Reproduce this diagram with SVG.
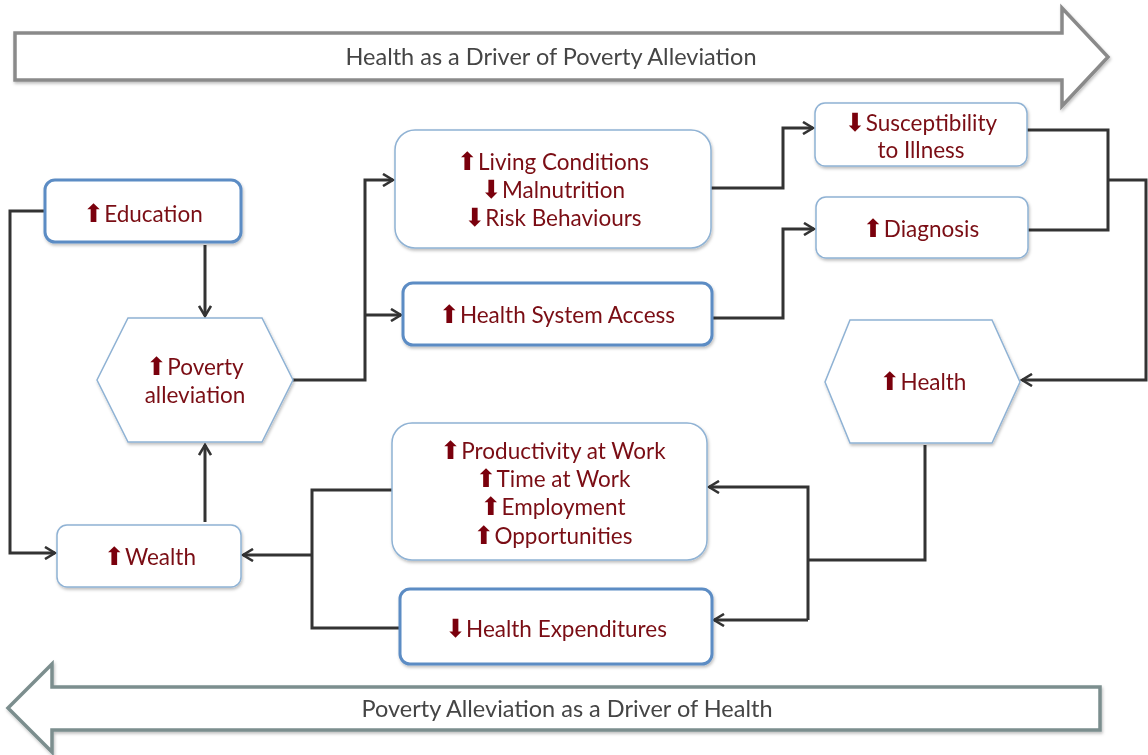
<svg xmlns="http://www.w3.org/2000/svg" width="1148" height="755" viewBox="0 0 1148 755">
<defs>
<filter id="sh" x="-10%" y="-10%" width="130%" height="140%">
<feDropShadow dx="1" dy="2" stdDeviation="1.5" flood-color="#000" flood-opacity="0.25"/>
</filter>
<marker id="ah" viewBox="0 0 14 14" refX="12" refY="7" markerWidth="14" markerHeight="14" markerUnits="userSpaceOnUse" orient="auto">
<path d="M2,1 L12,7 L2,13" fill="none" stroke="#333" stroke-width="2.6" stroke-linejoin="miter"/>
</marker>
</defs>
<style>
.thin{fill:#fff;stroke:#8fb2d4;stroke-width:1.5}
.thick{fill:#fff;stroke:#5b8cc4;stroke-width:3}
.lbl{font-family:Lato,"Open Sans","DejaVu Sans",sans-serif;font-size:22.5px;fill:#7a0d12;text-anchor:middle}
.ar{font-family:"DejaVu Sans",sans-serif;font-size:25px;fill:#7a0008}
.ban{font-family:Lato,"Open Sans",sans-serif;font-size:23.5px;fill:#444;text-anchor:middle}
.con{fill:none;stroke:#333;stroke-width:3}
</style>
<rect width="1148" height="755" fill="#fff"/>

<g id="banner-top" filter="url(#sh)">
<path d="M15,33 L1062,33 L1062,8 L1108,57 L1062,106 L1062,80 L15,80 Z" fill="#fff" stroke="#8a8a8a" stroke-width="3.5" stroke-linejoin="miter"/>
<text class="ban" x="551" y="65">Health as a Driver of Poverty Alleviation</text>
</g>
<g id="banner-bottom" filter="url(#sh)">
<path d="M1100,687 L52,687 L52,664 L8,708 L52,752 L52,730 L1100,730 Z" fill="#fff" stroke="#7b8e8e" stroke-width="3.5" stroke-linejoin="miter"/>
<text class="ban" x="567" y="717">Poverty Alleviation as a Driver of Health</text>
</g>

<g id="connectors">
<path class="con" d="M45,211 L10,211 L10,553 L55,553" marker-end="url(#ah)"/>
<path class="con" d="M205,245 L205,316" marker-end="url(#ah)"/>
<path class="con" d="M205,522 L205,445" marker-end="url(#ah)"/>
<path class="con" d="M293,380 L365,380 L365,180 L393,180" marker-end="url(#ah)"/>
<path class="con" d="M365,315 L401,315" marker-end="url(#ah)"/>
<path class="con" d="M711,188 L783,188 L783,128 L813,128" marker-end="url(#ah)"/>
<path class="con" d="M712,318 L783,318 L783,229 L814,229" marker-end="url(#ah)"/>
<path class="con" d="M1027,130 L1108,130 L1108,230 L1028,230"/>
<path class="con" d="M1108,180 L1146,180 L1146,380 L1022,380" marker-end="url(#ah)"/>
<path class="con" d="M925,445 L925,560 L808,560"/>
<path class="con" d="M808,620 L808,487 L709,487" marker-end="url(#ah)"/>
<path class="con" d="M808,620 L714,620" marker-end="url(#ah)"/>
<path class="con" d="M392,490 L312,490 L312,628 L400,628"/>
<path class="con" d="M312,555 L243,555" marker-end="url(#ah)"/>
</g>

<g id="education" filter="url(#sh)">
<rect class="thick" x="45" y="180" width="196" height="62" rx="10"/>
<text class="lbl" x="143" y="222"><tspan class="ar">⬆</tspan>Education</text>
</g>
<g id="poverty-alleviation" filter="url(#sh)">
<polygon class="thin" points="128,318 262,318 293,380 262,442 128,442 97,380"/>
<text class="lbl" x="195" y="375"><tspan class="ar">⬆</tspan>Poverty</text>
<text class="lbl" x="195" y="403">alleviation</text>
</g>
<g id="living-conditions" filter="url(#sh)">
<rect class="thin" x="395" y="130" width="316" height="118" rx="20"/>
<text class="lbl" x="553" y="170"><tspan class="ar">⬆</tspan>Living Conditions</text>
<text class="lbl" x="553" y="198"><tspan class="ar">⬇</tspan>Malnutrition</text>
<text class="lbl" x="553" y="226"><tspan class="ar">⬇</tspan>Risk Behaviours</text>
</g>
<g id="health-system-access" filter="url(#sh)">
<rect class="thick" x="403" y="283" width="309" height="62" rx="10"/>
<text class="lbl" x="557" y="323"><tspan class="ar">⬆</tspan>Health System Access</text>
</g>
<g id="susceptibility" filter="url(#sh)">
<rect class="thin" x="815" y="103" width="212" height="63" rx="10"/>
<text class="lbl" x="921" y="131"><tspan class="ar">⬇</tspan>Susceptibility</text>
<text class="lbl" x="921" y="158">to Illness</text>
</g>
<g id="diagnosis" filter="url(#sh)">
<rect class="thin" x="816" y="197" width="212" height="61" rx="10"/>
<text class="lbl" x="921" y="237"><tspan class="ar">⬆</tspan>Diagnosis</text>
</g>
<g id="health" filter="url(#sh)">
<polygon class="thin" points="850,320 992,320 1020,382 992,443 850,443 825,382"/>
<text class="lbl" x="923" y="390"><tspan class="ar">⬆</tspan>Health</text>
</g>
<g id="productivity" filter="url(#sh)">
<rect class="thin" x="392" y="423" width="315" height="137" rx="20"/>
<text class="lbl" x="553" y="459"><tspan class="ar">⬆</tspan>Productivity at Work</text>
<text class="lbl" x="553" y="487"><tspan class="ar">⬆</tspan>Time at Work</text>
<text class="lbl" x="553" y="515"><tspan class="ar">⬆</tspan>Employment</text>
<text class="lbl" x="553" y="544"><tspan class="ar">⬆</tspan>Opportunities</text>
</g>
<g id="wealth" filter="url(#sh)">
<rect class="thin" x="57" y="525" width="184" height="62" rx="10"/>
<text class="lbl" x="150" y="565"><tspan class="ar">⬆</tspan>Wealth</text>
</g>
<g id="health-expenditures" filter="url(#sh)">
<rect class="thick" x="400" y="589" width="312" height="75" rx="10"/>
<text class="lbl" x="556" y="637"><tspan class="ar">⬇</tspan>Health Expenditures</text>
</g>
</svg>
